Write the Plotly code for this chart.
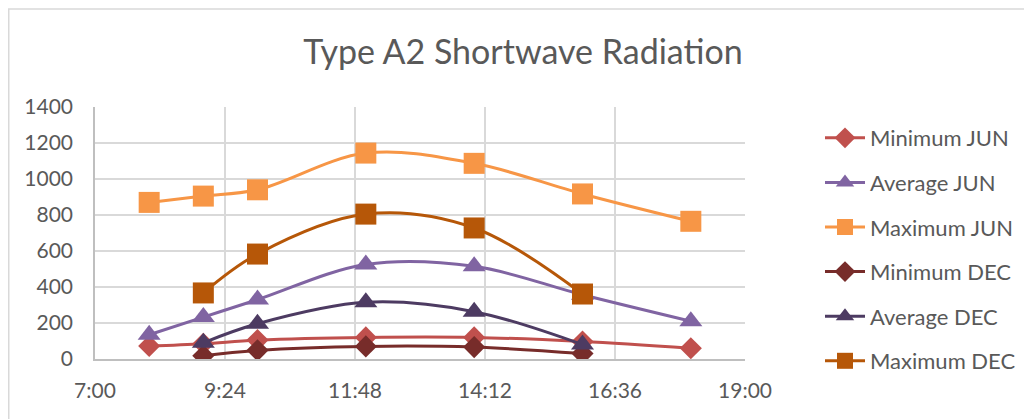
import plotly.graph_objects as go

# Data (hours of day)
hours_jun = [8, 9, 10, 12, 14, 16, 18]
hours_dec = [9, 10, 12, 14, 16]

min_jun = [72, 85, 105, 120, 120, 97, 60]
avg_jun = [135, 233, 330, 525, 515, 357, 210]
max_jun = [870, 905, 940, 1144, 1087, 917, 765]
min_dec = [18, 48, 70, 66, 30]
avg_dec = [90, 196, 315, 263, 80]
max_dec = [367, 583, 805, 728, 361]

x_tick_vals = [7.0, 9.4, 11.8, 14.2, 16.6, 19.0]
x_tick_labels = ["7:00", "9:24", "11:48", "14:12", "16:36", "19:00"]

series = [
    ("Minimum JUN", hours_jun, min_jun, "#C0504D", "diamond", 17),
    ("Average JUN", hours_jun, avg_jun, "#8064A2", "triangle-up", 20),
    ("Maximum JUN", hours_jun, max_jun, "#F79646", "square", 21),
    ("Minimum DEC", hours_dec, min_dec, "#772C2A", "diamond", 17),
    ("Average DEC", hours_dec, avg_dec, "#4D3B62", "triangle-up", 20),
    ("Maximum DEC", hours_dec, max_dec, "#B65708", "square", 21),
]

FONT = "Lato"
TXT = "#595959"

# page body adds an 8px offset; layout numbers below compensate for it
PL, PT, PW, PH = 87, 99, 650, 252
SCREEN_LEFT, SCREEN_BOTTOM = PL + 8, PT + PH + 8

fig = go.Figure()
for name, xs, ys, color, sym, size in series:
    fig.add_trace(go.Scatter(
        x=xs, y=ys, name=name, legendgroup=name,
        mode="lines+markers",
        line=dict(color=color, width=3, shape="spline", smoothing=1),
        marker=dict(color=color, symbol=sym, size=size, line=dict(width=0)),
    ))

fig.update_layout(
    width=1032, height=419,
    margin=dict(l=PL, r=1032 - PL - PW, t=PT, b=419 - PT - PH, autoexpand=False),
    paper_bgcolor="white", plot_bgcolor="white",
    font=dict(family=FONT, color=TXT),
    title=dict(text="Type A2 Shortwave Radiation", x=515 / 1032, xanchor="center",
               y=1 - 44 / 419, yanchor="middle",
               font=dict(family=FONT, size=34, color=TXT)),
    showlegend=True,
    legend=dict(x=(820 - SCREEN_LEFT) / PW, xanchor="left",
                y=(SCREEN_BOTTOM - 117) / PH, yanchor="top",
                font=dict(family=FONT, size=22, color=TXT),
                tracegroupgap=13, itemwidth=40, bgcolor="rgba(0,0,0,0)",
                maxheight=400),
    shapes=[dict(type="rect", xref="paper", yref="paper",
                 x0=(8.75 - SCREEN_LEFT) / PW, x1=2.0, y0=-1.0,
                 y1=(SCREEN_BOTTOM - 9) / PH,
                 line=dict(color="#D9D9D9", width=1.5), layer="below")],
)

fig.update_xaxes(
    range=[7, 19], tickmode="array", tickvals=x_tick_vals, ticktext=x_tick_labels,
    showgrid=True, gridcolor="#D9D9D9", gridwidth=1.5,
    showline=True, linecolor="#BFBFBF", linewidth=1.5,
    ticks="", zeroline=False, ticklabelstandoff=12,
    tickfont=dict(family=FONT, size=21, color=TXT),
)
fig.update_yaxes(
    range=[0, 1400], dtick=200, tick0=0,
    showgrid=True, gridcolor="#D9D9D9", gridwidth=1.5,
    showline=True, linecolor="#BFBFBF", linewidth=1.5,
    ticks="", zeroline=False, ticklabelstandoff=16,
    tickfont=dict(family=FONT, size=21, color=TXT),
)

fig.write_html("out.html")
